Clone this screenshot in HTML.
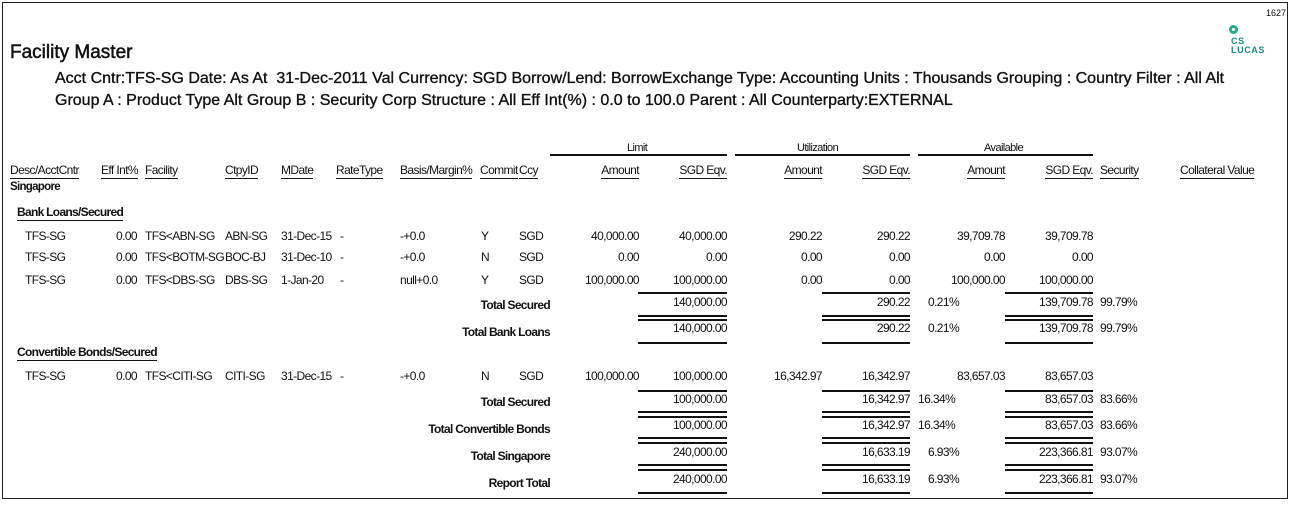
<!DOCTYPE html>
<html><head><meta charset="utf-8"><style>
body{margin:0;width:1293px;height:506px;background:#fff;position:relative;overflow:hidden;font-family:"Liberation Sans",Arial,sans-serif;color:#111}
.f{position:absolute;left:2px;top:2px;width:1286px;height:497px;border:1px solid #222;box-sizing:border-box}
span{position:absolute;font-size:12px;line-height:14px;white-space:nowrap;letter-spacing:-0.6px}
.r{text-align:right}
.b{font-weight:bold;letter-spacing:-0.7px}
.u{border-bottom:1px solid #111;padding-bottom:1px}
i{position:absolute;display:block;height:2px;background:#111}
</style></head><body>
<div class="f"></div>
<span style="left:1266px;top:6px;font-size:9px;letter-spacing:0">1627</span>
<div style="position:absolute;left:1229px;top:25px;width:3px;height:3px;border:3px solid #2aa88a;border-radius:50%"></div>
<span style="left:1231px;top:37px;font-size:9px;font-weight:bold;color:#1a8c86;line-height:9px;letter-spacing:0.6px">CS<br>LUCAS</span>
<span style="left:10px;top:42px;font-size:19px;line-height:22px;letter-spacing:0;-webkit-text-stroke:0.5px #111">Facility Master</span>
<span style="left:55px;top:69px;font-size:16px;line-height:19px;letter-spacing:0;-webkit-text-stroke:0.35px #111">Acct Cntr:TFS-SG Date: As At &nbsp;31-Dec-2011 Val Currency: SGD Borrow/Lend: BorrowExchange Type: Accounting Units : Thousands Grouping : Country Filter : All Alt</span>
<span style="left:55px;top:91px;font-size:16px;line-height:19px;letter-spacing:0;-webkit-text-stroke:0.35px #111">Group A : Product Type Alt Group B : Security Corp Structure : All Eff Int(%) : 0.0 to 100.0 Parent : All Counterparty:EXTERNAL</span>

<span style="left:627px;top:141px;font-size:11px">Limit</span>
<span style="left:797px;top:141px;font-size:11px">Utilization</span>
<span style="left:984px;top:141px;font-size:11px">Available</span>
<i style="left:550px;top:154px;width:177px"></i>
<i style="left:735px;top:154px;width:175px"></i>
<i style="left:918px;top:154px;width:175px"></i>

<span class="u" style="left:10px;top:163px">Desc/AcctCntr</span>
<span class="u" style="left:101px;top:163px">Eff Int%</span>
<span class="u" style="left:145px;top:163px">Facility</span>
<span class="u" style="left:225px;top:163px">CtpyID</span>
<span class="u" style="left:281px;top:163px">MDate</span>
<span class="u" style="left:336px;top:163px">RateType</span>
<span class="u" style="left:400px;top:163px">Basis/Margin%</span>
<span class="u" style="left:480px;top:163px">Commit</span>
<span class="u" style="left:519px;top:163px">Ccy</span>
<span class="u r" style="right:654px;top:163px">Amount</span>
<span class="u r" style="right:566px;top:163px">SGD Eqv.</span>
<span class="u r" style="right:471px;top:163px">Amount</span>
<span class="u r" style="right:383px;top:163px">SGD Eqv.</span>
<span class="u r" style="right:288px;top:163px">Amount</span>
<span class="u r" style="right:200px;top:163px">SGD Eqv.</span>
<span class="u" style="left:1100px;top:163px">Security</span>
<span class="u" style="left:1180px;top:163px">Collateral Value</span>

<span class="b" style="left:10px;top:180px;font-size:11.5px">Singapore</span>
<span class="b u" style="left:17px;top:205px">Bank Loans/Secured</span>

<span style="left:25px;top:229px">TFS-SG</span><span class="r" style="right:1156px;top:229px">0.00</span><span style="left:145px;top:229px">TFS&lt;ABN-SG</span><span style="left:225px;top:229px">ABN-SG</span><span style="left:281px;top:229px">31-Dec-15</span><span style="left:340px;top:229px">-</span><span style="left:400px;top:229px">-+0.0</span><span style="left:481px;top:229px">Y</span><span style="left:519px;top:229px">SGD</span>
<span class="r" style="right:654px;top:229px">40,000.00</span><span class="r" style="right:566px;top:229px">40,000.00</span><span class="r" style="right:471px;top:229px">290.22</span><span class="r" style="right:383px;top:229px">290.22</span><span class="r" style="right:288px;top:229px">39,709.78</span><span class="r" style="right:200px;top:229px">39,709.78</span>

<span style="left:25px;top:250px">TFS-SG</span><span class="r" style="right:1156px;top:250px">0.00</span><span style="left:145px;top:250px">TFS&lt;BOTM-SG</span><span style="left:225px;top:250px">BOC-BJ</span><span style="left:281px;top:250px">31-Dec-10</span><span style="left:340px;top:250px">-</span><span style="left:400px;top:250px">-+0.0</span><span style="left:481px;top:250px">N</span><span style="left:519px;top:250px">SGD</span>
<span class="r" style="right:654px;top:250px">0.00</span><span class="r" style="right:566px;top:250px">0.00</span><span class="r" style="right:471px;top:250px">0.00</span><span class="r" style="right:383px;top:250px">0.00</span><span class="r" style="right:288px;top:250px">0.00</span><span class="r" style="right:200px;top:250px">0.00</span>

<span style="left:25px;top:273px">TFS-SG</span><span class="r" style="right:1156px;top:273px">0.00</span><span style="left:145px;top:273px">TFS&lt;DBS-SG</span><span style="left:225px;top:273px">DBS-SG</span><span style="left:281px;top:273px">1-Jan-20</span><span style="left:340px;top:273px">-</span><span style="left:400px;top:273px">null+0.0</span><span style="left:481px;top:273px">Y</span><span style="left:519px;top:273px">SGD</span>
<span class="r" style="right:654px;top:273px">100,000.00</span><span class="r" style="right:566px;top:273px">100,000.00</span><span class="r" style="right:471px;top:273px">0.00</span><span class="r" style="right:383px;top:273px">0.00</span><span class="r" style="right:288px;top:273px">100,000.00</span><span class="r" style="right:200px;top:273px">100,000.00</span>

<i style="left:638px;top:292px;width:89px"></i><i style="left:822px;top:292px;width:88px"></i><i style="left:1005px;top:292px;width:88px"></i>
<span class="b r" style="right:743px;top:298px">Total Secured</span><span class="r" style="right:566px;top:295px">140,000.00</span><span class="r" style="right:383px;top:295px">290.22</span><span style="left:928px;top:295px">0.21%</span><span class="r" style="right:200px;top:295px">139,709.78</span><span style="left:1100px;top:295px">99.79%</span>
<i style="left:638px;top:315px;width:89px"></i><i style="left:822px;top:315px;width:88px"></i><i style="left:1005px;top:315px;width:88px"></i>
<i style="left:638px;top:319px;width:89px"></i><i style="left:822px;top:319px;width:88px"></i><i style="left:1005px;top:319px;width:88px"></i>
<span class="b r" style="right:743px;top:325px">Total Bank Loans</span><span class="r" style="right:566px;top:321px">140,000.00</span><span class="r" style="right:383px;top:321px">290.22</span><span style="left:928px;top:321px">0.21%</span><span class="r" style="right:200px;top:321px">139,709.78</span><span style="left:1100px;top:321px">99.79%</span>
<i style="left:638px;top:342px;width:89px"></i><i style="left:822px;top:342px;width:88px"></i><i style="left:1005px;top:342px;width:88px"></i>

<span class="b u" style="left:17px;top:345px">Convertible Bonds/Secured</span>
<span style="left:25px;top:369px">TFS-SG</span><span class="r" style="right:1156px;top:369px">0.00</span><span style="left:145px;top:369px">TFS&lt;CITI-SG</span><span style="left:225px;top:369px">CITI-SG</span><span style="left:281px;top:369px">31-Dec-15</span><span style="left:340px;top:369px">-</span><span style="left:400px;top:369px">-+0.0</span><span style="left:481px;top:369px">N</span><span style="left:519px;top:369px">SGD</span>
<span class="r" style="right:654px;top:369px">100,000.00</span><span class="r" style="right:566px;top:369px">100,000.00</span><span class="r" style="right:471px;top:369px">16,342.97</span><span class="r" style="right:383px;top:369px">16,342.97</span><span class="r" style="right:288px;top:369px">83,657.03</span><span class="r" style="right:200px;top:369px">83,657.03</span>

<i style="left:638px;top:390px;width:89px"></i><i style="left:822px;top:390px;width:88px"></i><i style="left:1005px;top:390px;width:88px"></i>
<span class="b r" style="right:743px;top:395px">Total Secured</span><span class="r" style="right:566px;top:392px">100,000.00</span><span class="r" style="right:383px;top:392px">16,342.97</span><span style="left:918px;top:392px">16.34%</span><span class="r" style="right:200px;top:392px">83,657.03</span><span style="left:1100px;top:392px">83.66%</span>

<i style="left:638px;top:411px;width:89px"></i><i style="left:822px;top:411px;width:88px"></i><i style="left:1005px;top:411px;width:88px"></i>
<i style="left:638px;top:416px;width:89px"></i><i style="left:822px;top:416px;width:88px"></i><i style="left:1005px;top:416px;width:88px"></i>
<span class="b r" style="right:743px;top:422px">Total Convertible Bonds</span><span class="r" style="right:566px;top:418px">100,000.00</span><span class="r" style="right:383px;top:418px">16,342.97</span><span style="left:918px;top:418px">16.34%</span><span class="r" style="right:200px;top:418px">83,657.03</span><span style="left:1100px;top:418px">83.66%</span>

<i style="left:638px;top:437px;width:89px"></i><i style="left:822px;top:437px;width:88px"></i><i style="left:1005px;top:437px;width:88px"></i>
<i style="left:638px;top:442px;width:89px"></i><i style="left:822px;top:442px;width:88px"></i><i style="left:1005px;top:442px;width:88px"></i>
<span class="b r" style="right:743px;top:449px">Total Singapore</span><span class="r" style="right:566px;top:445px">240,000.00</span><span class="r" style="right:383px;top:445px">16,633.19</span><span style="left:928px;top:445px">6.93%</span><span class="r" style="right:200px;top:445px">223,366.81</span><span style="left:1100px;top:445px">93.07%</span>

<i style="left:638px;top:464px;width:89px"></i><i style="left:822px;top:464px;width:88px"></i><i style="left:1005px;top:464px;width:88px"></i>
<i style="left:638px;top:469px;width:89px"></i><i style="left:822px;top:469px;width:88px"></i><i style="left:1005px;top:469px;width:88px"></i>
<span class="b r" style="right:743px;top:476px">Report Total</span><span class="r" style="right:566px;top:472px">240,000.00</span><span class="r" style="right:383px;top:472px">16,633.19</span><span style="left:928px;top:472px">6.93%</span><span class="r" style="right:200px;top:472px">223,366.81</span><span style="left:1100px;top:472px">93.07%</span>
<i style="left:638px;top:492px;width:89px"></i><i style="left:822px;top:492px;width:88px"></i><i style="left:1005px;top:492px;width:88px"></i>
</body></html>
